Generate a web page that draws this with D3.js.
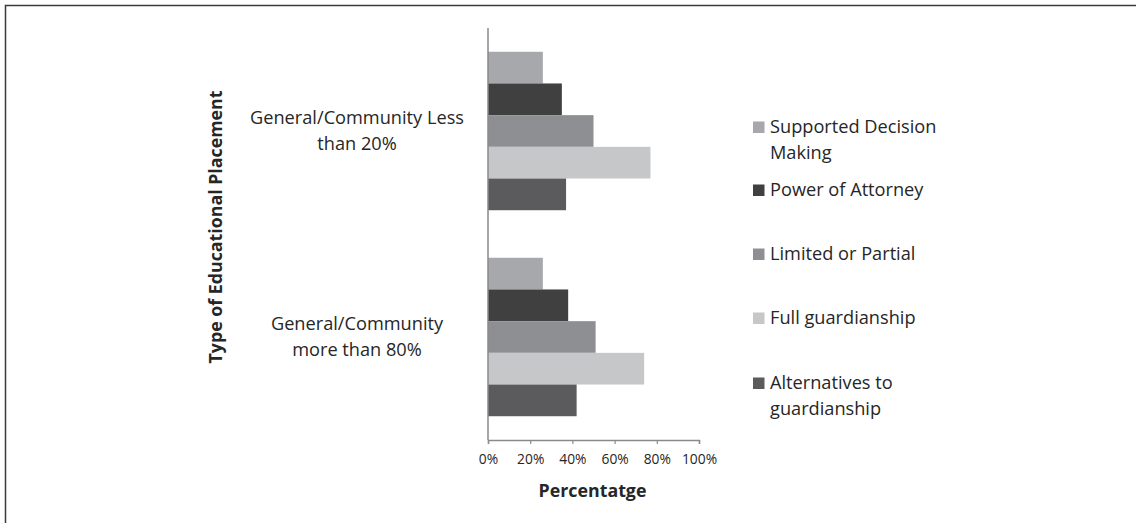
<!DOCTYPE html>
<html>
<head>
<meta charset="utf-8">
<script src="https://cdn.jsdelivr.net/npm/d3@7"></script>
<style>
  html, body { margin: 0; padding: 0; background: #fff; }
  svg { display: block; }
  text { font-family: "Open Sans", Lato, sans-serif; fill: #262626; }
</style>
</head>
<body>
<svg id="chart" width="1136" height="523"></svg>
<script>
// Placement groups (top to bottom)
const categories = [
  ["General/Community Less", "than 20%"],
  ["General/Community", "more than 80%"]
];
const categoryKeys = ["lt20", "gt80"];

// Guardianship types, in drawing order within each group
const seriesNames = [
  ["Supported Decision", "Making"],
  ["Power of Attorney"],
  ["Limited or Partial"],
  ["Full guardianship"],
  ["Alternatives to", "guardianship"]
];
const seriesColors = ["#a7a8ab", "#404040", "#8e8f92", "#c6c7c9", "#5b5b5d"];

// Percent values per series, one per placement group
const supportedDecision = [26, 26];
const powerOfAttorney  = [35, 38];
const limitedPartial   = [50, 51];
const fullGuardianship = [77, 74];
const alternatives     = [37, 42];
const seriesValues = [supportedDecision, powerOfAttorney, limitedPartial, fullGuardianship, alternatives];

const xTicks = [0, 20, 40, 60, 80, 100];

const FONT = "'Open Sans', Lato, sans-serif";
const LABEL_SIZE = 18.2;
const TITLE_SIZE = 17.8;
const svg = d3.select("#chart");

// outer frame (top and left edges visible)
svg.append("path")
  .attr("d", "M5.5,523 V5.5 H1136")
  .attr("fill", "none")
  .attr("stroke", "#3a3a3a")
  .attr("stroke-width", 1.5);

const plot = { left: 488, right: 699, top: 28, bottom: 440 };

const x = d3.scaleLinear().domain([0, 100]).range([plot.left, plot.right]);
const y0 = d3.scaleBand().domain(categoryKeys).range([plot.top, plot.bottom]);
const y1 = d3.scaleBand().domain(d3.range(seriesNames.length))
  .range([0, y0.bandwidth()]).paddingInner(0).paddingOuter(0.75);

// bars
categoryKeys.forEach((key, ci) => {
  const g = svg.append("g").attr("transform", `translate(0,${y0(key)})`);
  g.selectAll("rect")
    .data(seriesValues.map((vals, si) => ({ si, v: vals[ci] })))
    .join("rect")
    .attr("x", x(0))
    .attr("y", d => y1(d.si))
    .attr("width", d => x(d.v) - x(0))
    .attr("height", y1.bandwidth())
    .attr("fill", d => seriesColors[d.si]);
});

// x axis
const xAxis = svg.append("g")
  .attr("transform", `translate(0,${plot.bottom})`)
  .call(d3.axisBottom(x).tickValues(xTicks).tickFormat(d => d + "%").tickSize(4).tickPadding(10));
xAxis.select(".domain").attr("stroke", "#8a8a8a").attr("stroke-width", 1.5);
xAxis.selectAll(".tick line").attr("stroke", "#8a8a8a").attr("stroke-width", 1.2);
xAxis.selectAll(".tick text")
  .attr("font-family", FONT)
  .attr("font-size", 13.8)
  .attr("fill", "#262626");

// y axis line
svg.append("line")
  .attr("x1", plot.left).attr("x2", plot.left)
  .attr("y1", plot.top).attr("y2", plot.bottom)
  .attr("stroke", "#8a8a8a").attr("stroke-width", 1.5);

// category labels
categoryKeys.forEach((key, ci) => {
  const cy = y0(key) + y0.bandwidth() / 2;
  const lines = categories[ci];
  const lh = 26;
  const t = svg.append("text")
    .attr("text-anchor", "middle")
    .attr("font-size", LABEL_SIZE);
  lines.forEach((ln, li) => {
    t.append("tspan")
      .attr("x", 357)
      .attr("y", cy + (li - (lines.length - 1) / 2) * lh)
      .attr("dy", "0.35em")
      .text(ln);
  });
});

// axis titles
svg.append("text")
  .attr("transform", `translate(216,${(plot.top + plot.bottom) / 2 - 7}) rotate(-90)`)
  .attr("text-anchor", "middle")
  .attr("dy", "0.35em")
  .attr("font-size", TITLE_SIZE)
  .attr("font-weight", "bold")
  .text("Type of Educational Placement");

svg.append("text")
  .attr("x", (plot.left + plot.right) / 2 - 1)
  .attr("y", 491)
  .attr("dy", "0.35em")
  .attr("text-anchor", "middle")
  .attr("font-size", TITLE_SIZE)
  .attr("font-weight", "bold")
  .text("Percentatge");

// legend
const legendY = [127, 190, 254, 318, 383];
const legend = svg.append("g");
seriesNames.forEach((lines, i) => {
  legend.append("rect")
    .attr("x", 753).attr("y", legendY[i] - 5.5)
    .attr("width", 11.5).attr("height", 11.5)
    .attr("fill", seriesColors[i]);
  const t = legend.append("text").attr("font-size", LABEL_SIZE);
  lines.forEach((ln, li) => {
    t.append("tspan")
      .attr("x", 770)
      .attr("y", legendY[i] + li * 25.5)
      .attr("dy", "0.35em")
      .text(ln);
  });
});
</script>
</body>
</html>
